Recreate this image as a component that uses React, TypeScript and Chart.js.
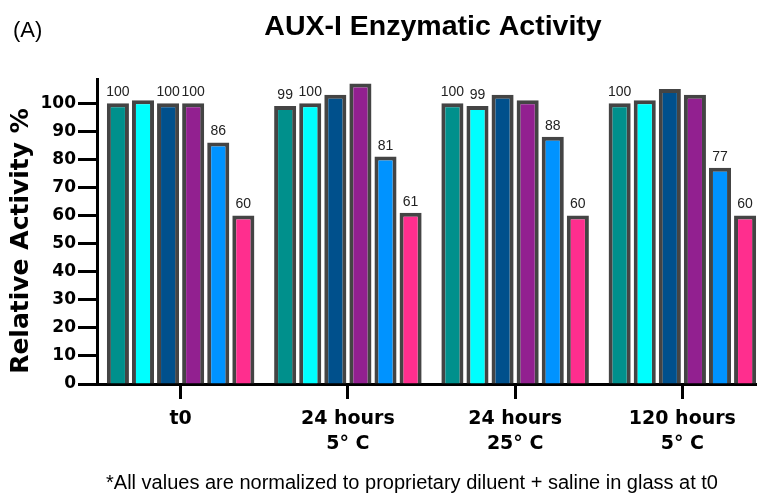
import React, { useEffect, useRef } from "react";
import { Chart, registerables } from "chart.js";

Chart.register(...registerables);

const categories: (string | string[])[] = ["t0", ["24 hours", "5° C"], ["24 hours", "25° C"], ["120 hours", "5° C"]];

const seriesA = [100, 99, 100, 100];
const seriesB = [101, 100, 99, 101];
const seriesC = [100, 103, 103, 105];
const seriesD = [100, 107, 101, 103];
const seriesE = [86, 81, 88, 77];
const seriesF = [60, 61, 60, 60];

// value labels printed above bars (null = no label)
const labelsA = ["100", "99", "100", "100"];
const labelsB = [null, "100", "99", null];
const labelsC = ["100", null, null, null];
const labelsD = ["100", null, null, null];
const labelsE = ["86", "81", "88", "77"];
const labelsF = ["60", "61", "60", "60"];

const yTicks = [0, 10, 20, 30, 40, 50, 60, 70, 80, 90, 100];

const colors = ["#00908c", "#00ffff", "#00508c", "#922090", "#0093ff", "#ff2e8e"];

const titleText = "AUX-I Enzymatic Activity";
const panelText = "(A)";
const footText = "*All values are normalized to proprietary diluent + saline in glass at t0";
const yTitle = "Relative Activity %";

export default function App() {
  const ref = useRef<HTMLCanvasElement | null>(null);
  useEffect(() => {
    document.body.style.margin = "0";
    const canvas = ref.current;
    if (!canvas) return;
    const series = [seriesA, seriesB, seriesC, seriesD, seriesE, seriesF];
    const labels = [labelsA, labelsB, labelsC, labelsD, labelsE, labelsF];

    const textPlugin = {
      id: "texts",
      afterDraw(chart: any) {
        const ctx = chart.ctx;
        const area = chart.chartArea;
        ctx.save();
        // value labels
        ctx.fillStyle = "#222";
        ctx.font = "14px 'Liberation Sans', Arial, sans-serif";
        ctx.textAlign = "center";
        ctx.textBaseline = "alphabetic";
        chart.data.datasets.forEach((ds: any, i: number) => {
          const meta = chart.getDatasetMeta(i);
          meta.data.forEach((bar: any, j: number) => {
            const t = labels[i][j];
            if (t) ctx.fillText(t, bar.x, bar.y - 7);
          });
        });
        // title
        ctx.fillStyle = "#000";
        ctx.font = "bold 28.5px 'Liberation Sans', Arial, sans-serif";
        ctx.textBaseline = "middle";
        ctx.fillText(titleText, 433, 27);
        ctx.font = "22px 'Liberation Sans', Arial, sans-serif";
        ctx.textAlign = "left";
        ctx.fillText(panelText, 13, 31);
        ctx.textAlign = "center";
        ctx.font = "20px 'Liberation Sans', Arial, sans-serif";
        ctx.fillText(footText, 412, 483);
        // y title
        ctx.translate(21, 241);
        ctx.rotate(-Math.PI / 2);
        ctx.font = "bold 25px 'DejaVu Sans', sans-serif";
        ctx.fillText(yTitle, 0, 0);
        ctx.restore();
      },
    };

    const chart = new Chart(canvas, {
      type: "bar",
      data: {
        labels: categories,
        datasets: series.map((s, i) => ({
          data: s,
          backgroundColor: colors[i],
          borderColor: "#444444",
          borderWidth: 4,
          borderSkipped: "start",
          categoryPercentage: 0.9,
          barPercentage: 0.88,
        })),
      },
      options: {
        responsive: false,
        animation: false,
        devicePixelRatio: 1,
        layout: { padding: { top: 79, right: 4, left: 0, bottom: 0 } },
        plugins: {
          legend: { display: false },
          tooltip: { enabled: false },
          title: { display: false },
        },
        scales: {
          x: {
            grid: {
              display: true,
              drawOnChartArea: false,
              drawTicks: true,
              offset: false,
              tickLength: 15,
              tickWidth: 3,
              tickColor: "#000",
            },
            border: { display: true, color: "#000", width: 3 },
            ticks: {
              color: "#000",
              font: { family: "'DejaVu Sans', sans-serif", weight: "bold", size: 19, lineHeight: 1.3 },
              padding: 8,
              maxRotation: 0,
              autoSkip: false,
            },
            afterFit: (s: any) => {
              s.height = 112;
            },
          },
          y: {
            min: 0,
            max: 108.6,
            afterBuildTicks: (s: any) => {
              s.ticks = yTicks.map((v) => ({ value: v }));
            },
            grid: {
              display: true,
              drawOnChartArea: false,
              drawTicks: true,
              tickLength: 19,
              tickWidth: 3,
              tickColor: "#000",
            },
            border: { display: true, color: "#000", width: 3 },
            ticks: {
              color: "#000",
              font: { family: "'DejaVu Sans', sans-serif", weight: "bold", size: 17 },
              padding: 2,
            },
            afterFit: (s: any) => {
              s.width = 97;
            },
          },
        },
      },
      plugins: [textPlugin],
    } as any);
    return () => chart.destroy();
  }, []);
  return (
    <div style={{ position: "relative", width: 757, height: 496, overflow: "hidden" }}>
      <canvas ref={ref} width={770} height={496} style={{ display: "block" }} />
    </div>
  );
}
